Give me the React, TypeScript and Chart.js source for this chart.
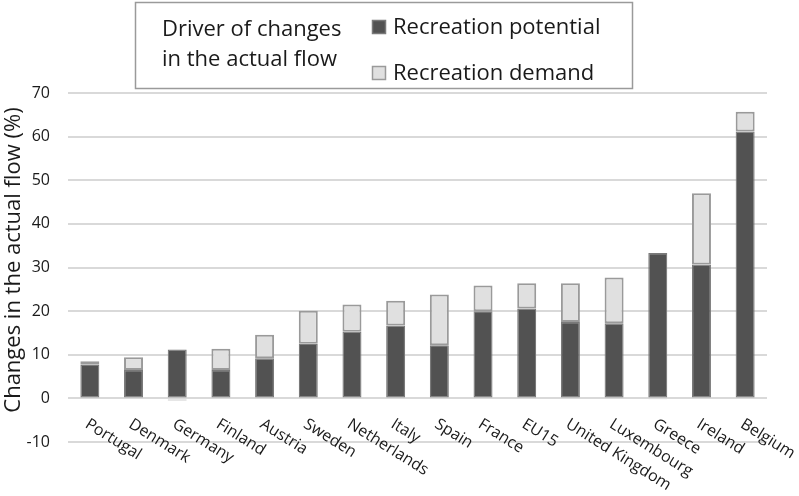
import React, { useEffect, useRef } from "react";
import { Chart, registerables } from "chart.js";

Chart.register(...registerables);

const categories = [
  "Portugal", "Denmark", "Germany", "Finland", "Austria", "Sweden", "Netherlands", "Italy",
  "Spain", "France", "EU15", "United Kingdom", "Luxembourg", "Greece", "Ireland", "Belgium",
];
const potential = [7.7, 6.5, 11.2, 6.5, 9.2, 12.5, 15.3, 16.7, 12.2, 20.0, 20.6, 17.5, 17.2, 33.3, 30.7, 61.2];
const demand = [0.8, 2.9, -0.5, 4.9, 5.4, 7.6, 6.2, 5.7, 11.6, 5.9, 5.8, 8.9, 10.5, -0.3, 16.3, 4.5];
const seriesNames = ["Recreation potential", "Recreation demand"];
const legendTitle = ["Driver of changes", "in the actual flow"];
const yTitle = "Changes in the actual flow (%)";
const yMin = -10;
const yMax = 70;
const yStep = 10;

const FONT = "'Open Sans', Lato, sans-serif";
const DARK = "#525252";
const LIGHT = "#e0e0e0";
const BORDER_LIGHT = "#9a9a9a";
const BORDER_DARK = "#7a7a7a";

const customDraw = {
  id: "customDraw",
  afterDraw(chart: any) {
    const ctx = chart.ctx;
    const xs = chart.scales.x;
    ctx.save();
    // x labels, rotated clockwise, starting at the category
    ctx.fillStyle = "#1a1a1a";
    ctx.font = `16px ${FONT}`;
    ctx.textAlign = "left";
    ctx.textBaseline = "top";
    chart.data.labels.forEach((lab: string, i: number) => {
      const x = xs.getPixelForValue(i);
      ctx.save();
      ctx.translate(x + 1, chart.chartArea.bottom - 26);
      ctx.rotate((32 * Math.PI) / 180);
      ctx.fillText(lab, 0, 0);
      ctx.restore();
    });
    // y title
    ctx.save();
    ctx.font = `22px ${FONT}`;
    ctx.textAlign = "center";
    ctx.textBaseline = "middle";
    ctx.translate(14, 260);
    ctx.rotate(-Math.PI / 2);
    ctx.fillText(yTitle, 0, 0);
    ctx.restore();
    // legend box
    ctx.fillStyle = "#ffffff";
    ctx.fillRect(135, 2, 498, 86);
    ctx.strokeStyle = "#9a9a9a";
    ctx.lineWidth = 1.5;
    ctx.strokeRect(135.5, 2.5, 497, 86);
    ctx.fillStyle = "#1a1a1a";
    ctx.font = `22px ${FONT}`;
    ctx.textAlign = "left";
    ctx.textBaseline = "alphabetic";
    ctx.fillText(legendTitle[0], 162, 36);
    ctx.fillText(legendTitle[1], 162, 66);
    const rows = [34, 80];
    chart.data.datasets.forEach((ds: any, i: number) => {
      const by = rows[i];
      ctx.fillStyle = ds.backgroundColor;
      ctx.fillRect(372, by - 14, 14, 14);
      ctx.strokeStyle = ds.borderColor;
      ctx.lineWidth = 1.5;
      ctx.strokeRect(372.5, by - 13.5, 13, 13);
      ctx.fillStyle = "#1a1a1a";
      ctx.fillText(ds.label, 393, by);
    });
    ctx.restore();
  },
};

export default function App() {
  const ref = useRef<HTMLCanvasElement>(null);
  useEffect(() => {
    if (!ref.current) return;
    const chart = new Chart(ref.current, {
      type: "bar",
      data: {
        labels: categories,
        datasets: [
          {
            label: seriesNames[0],
            data: potential,
            backgroundColor: DARK,
            borderColor: BORDER_DARK,
            borderWidth: 1.2,
            borderSkipped: false,
            barPercentage: 0.435,
            categoryPercentage: 1,
          },
          {
            label: seriesNames[1],
            data: demand,
            backgroundColor: LIGHT,
            borderColor: BORDER_LIGHT,
            borderWidth: 2,
            borderSkipped: false,
            barPercentage: 0.435,
            categoryPercentage: 1,
          },
        ],
      },
      options: {
        animation: false,
        responsive: true,
        maintainAspectRatio: false,
        layout: { padding: { top: 93, right: 32, left: 0, bottom: 0 } },
        plugins: { legend: { display: false }, tooltip: { enabled: false } },
        scales: {
          x: {
            stacked: true,
            grid: { display: false },
            border: { display: false },
            ticks: { display: false },
            afterFit: (s: any) => {
              s.height = 54;
            },
          },
          y: {
            stacked: true,
            min: yMin,
            max: yMax,
            grid: { color: "#d9d9d9", lineWidth: 2, drawTicks: false },
            border: { display: false },
            ticks: {
              stepSize: yStep,
              padding: 18,
              color: "#1a1a1a",
              font: { family: FONT, size: 16 },
            },
            afterFit: (s: any) => {
              s.width = 68;
            },
          },
        },
      },
      plugins: [customDraw],
    });
    return () => chart.destroy();
  }, []);
  return (
    <div style={{ position: "fixed", left: 0, top: 0, width: 799, height: 496, background: "#fff" }}>
      <canvas ref={ref} />
    </div>
  );
}
